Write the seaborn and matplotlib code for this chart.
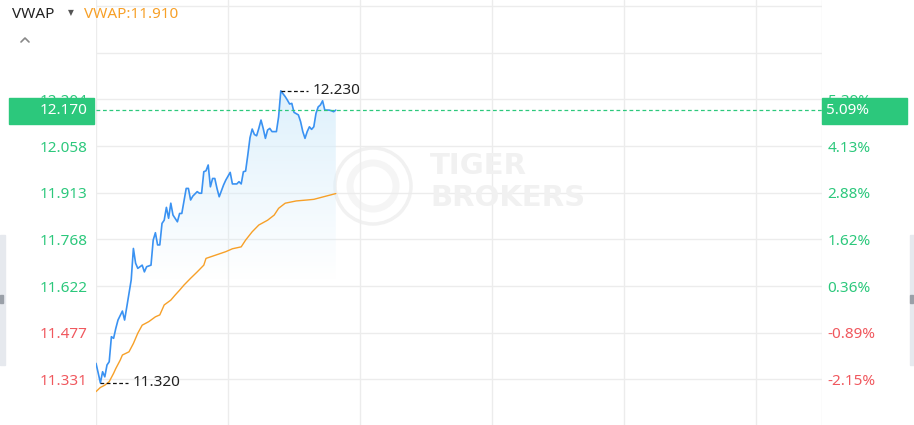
import numpy as np
import pandas as pd
import matplotlib.pyplot as plt
import matplotlib.transforms as mtransforms
from matplotlib.patches import Rectangle, Ellipse
from matplotlib.lines import Line2D
import seaborn as sns

# intraday session (HK market, 330 trading minutes)
session_minutes = 330
time_ticks = [0, 60, 120, 180, 240, 300, 330]

price_min = [0, 1, 2, 3, 4, 5, 6, 7, 8, 9, 10, 12, 13, 14, 16, 17, 18, 19, 21, 22,
             23, 25, 26, 27, 28, 29, 30, 31, 32, 33, 34, 35, 37, 38, 39, 41, 42, 43, 44, 46,
             47, 48, 49, 50, 51, 52, 53, 54, 55, 56, 58, 59, 61, 62, 64, 65, 66, 67, 68, 69,
             70, 71, 72, 73, 74, 75, 76, 77, 78, 79, 80, 82, 83, 84, 86, 87, 88, 89, 90, 92,
             93, 94, 95, 96, 97, 98, 99, 100, 101, 102, 103, 104, 106, 107, 108, 109]
price = [11.381, 11.351, 11.320, 11.355, 11.339, 11.376, 11.386, 11.464, 11.459, 11.490,
         11.516, 11.544, 11.516, 11.557, 11.641, 11.739, 11.693, 11.677, 11.687, 11.666,
         11.682, 11.687, 11.765, 11.788, 11.750, 11.750, 11.817, 11.827, 11.867, 11.833,
         11.880, 11.843, 11.822, 11.848, 11.848, 11.926, 11.926, 11.890, 11.902, 11.916,
         11.911, 11.911, 11.978, 11.981, 11.999, 11.931, 11.957, 11.957, 11.926, 11.900,
         11.937, 11.952, 11.976, 11.940, 11.940, 11.947, 11.940, 11.978, 11.980, 12.030,
         12.084, 12.111, 12.094, 12.090, 12.113, 12.139, 12.113, 12.082, 12.108, 12.113,
         12.103, 12.103, 12.149, 12.230, 12.212, 12.201, 12.189, 12.191, 12.163, 12.155,
         12.134, 12.103, 12.082, 12.103, 12.118, 12.110, 12.118, 12.160, 12.180, 12.186,
         12.199, 12.170, 12.170, 12.168, 12.165, 12.170]

vwap_min = [0, 2, 4, 6, 8, 9, 11, 12, 15, 17, 19, 21, 24, 27, 29, 31, 34, 36, 38, 40,
            43, 46, 49, 50, 53, 56, 59, 62, 66, 68, 71, 74, 78, 81, 83, 86, 91, 96, 99, 109]
vwap = [11.293, 11.306, 11.313, 11.324, 11.350, 11.365, 11.391, 11.407, 11.417, 11.443,
        11.475, 11.500, 11.511, 11.526, 11.532, 11.563, 11.578, 11.594, 11.609, 11.625,
        11.646, 11.666, 11.687, 11.708, 11.715, 11.722, 11.729, 11.738, 11.744, 11.765,
        11.791, 11.812, 11.827, 11.843, 11.864, 11.880, 11.887, 11.890, 11.892, 11.910]

pre_close = 11.580
last_price = 12.170
last_vwap = 11.910
day_high, day_high_min = 12.230, 84
day_low, day_low_min = 11.320, 2
price_ticks = [11.331, 11.477, 11.622, 11.768, 11.913, 12.058, 12.204, 12.349, 12.495]
n_labeled = 7

GREEN = '#2cc87c'
RED = '#f0585e'
BLUE = '#3a92f2'
ORANGE = '#f7a028'
GRID = '#ececec'

sns.set_style('white')
plt.rcParams['font.family'] = ['Noto Sans', 'DejaVu Sans']

W, H = 914, 425
fig = plt.figure(figsize=(W / 100, H / 100), dpi=100)
ax = fig.add_axes([96 / W, 0, (822 - 96) / W, 1])
ax.patch.set_alpha(0)

price_df = pd.DataFrame({'minute': price_min, 'price': price})
vwap_df = pd.DataFrame({'minute': vwap_min, 'vwap': vwap})

ylo, yhi = 11.189, 12.513

# watermark
wm = '#f1f1f1'
fig.add_artist(Ellipse((373 / W, 1 - 186 / H), 76 / W, 76 / H, transform=fig.transFigure,
                       fill=False, ec=wm, lw=2.5, zorder=0))
fig.add_artist(Ellipse((373 / W, 1 - 186 / H), 46 / W, 46 / H, transform=fig.transFigure,
                       fill=False, ec='#f5f5f5', lw=5, zorder=0))
fig.text(430 / W, 1 - 166 / H, 'TIGER', fontsize=21, fontweight='bold', color=wm,
         va='center', ha='left', zorder=0, family=['DejaVu Sans'])
fig.text(430 / W, 1 - 198 / H, 'BROKERS', fontsize=21, fontweight='bold', color=wm,
         va='center', ha='left', zorder=0, family=['DejaVu Sans'])

# grid
for t in time_ticks:
    ax.axvline(t, color=GRID, lw=1, zorder=1)
for p in price_ticks:
    ax.axhline(p, color=GRID, lw=1, zorder=1)

# gradient fill under price line
poly = ax.fill_between(price_df['minute'], price_df['price'], ylo, color='none', lw=0)
grad = np.zeros((256, 1, 4))
grad[:, 0, 0] = 0.84
grad[:, 0, 1] = 0.93
grad[:, 0, 2] = 0.985
grad[:, 0, 3] = np.linspace(0.8, 0.0, 256)
img = ax.imshow(grad, extent=[0, max(price_min), 11.64, day_high], aspect='auto',
                origin='upper', zorder=2, interpolation='bilinear')
img.set_clip_path(poly.get_paths()[0], transform=ax.transData)

sns.lineplot(data=price_df, x='minute', y='price', ax=ax, color=BLUE, lw=1.2, zorder=4)
sns.lineplot(data=vwap_df, x='minute', y='vwap', ax=ax, color=ORANGE, lw=1.0, zorder=4)
ax.set_xlim(0, session_minutes)
ax.set_ylim(ylo, yhi)

# last price dashed line
ax.axhline(last_price, color=GREEN, lw=0.9, ls=(0, (3, 2.2)), zorder=5)

# high / low markers
ax.plot([day_high_min, 96.4], [day_high, day_high], color='#111111', lw=0.9,
        ls=(0, (3, 2)), zorder=5)
ax.text(98.6, day_high, f'{day_high:.3f}', fontsize=11, color='#222222', va='center', ha='left')
ax.plot([day_low_min, 14.5], [day_low, day_low], color='#111111', lw=0.9,
        ls=(0, (3, 2)), zorder=5)
ax.text(16.8, day_low, f'{day_low:.3f}', fontsize=11, color='#222222', va='center', ha='left')

# axes labels
ax.set_xlabel('')
ax.set_ylabel('')
ax.set_xticks([])
for s in ax.spines.values():
    s.set_visible(False)
left_labels = [f'{p:.3f}' if i < n_labeled else '' for i, p in enumerate(price_ticks)]
ax.set_yticks(price_ticks)
ax.set_yticklabels(left_labels)
ax.tick_params(axis='y', length=0, pad=6, labelsize=11)
for lab, p in zip(ax.get_yticklabels(), price_ticks):
    lab.set_color(GREEN if p >= pre_close else RED)

ax2 = ax.twinx()
ax2.set_ylim(ylo, yhi)
ax2.set_yticks(price_ticks)
right_labels = [f'{(p / pre_close - 1) * 100:.2f}%' if i < n_labeled else ''
                for i, p in enumerate(price_ticks)]
ax2.set_yticklabels(right_labels)
ax2.tick_params(axis='y', length=0, pad=4, labelsize=11)
for lab, p in zip(ax2.get_yticklabels(), price_ticks):
    lab.set_color(GREEN if p >= pre_close else RED)
for s in ax2.spines.values():
    s.set_visible(False)

# last price tags
blend = mtransforms.blended_transform_factory(fig.transFigure, ax.transData)
box_h = 26 / H * (yhi - ylo)
for x0 in (9, 822):
    fig.add_artist(Rectangle((x0 / W, last_price - box_h * 0.55), 85 / W, box_h,
                             transform=blend, color=GREEN, zorder=10, clip_on=False))
fig.text(88 / W, last_price, f'{last_price:.3f}', transform=blend, fontsize=11,
         color='white', ha='right', va='center', zorder=11)
fig.text(826 / W, last_price, f'{(last_price / pre_close - 1) * 100:.2f}%', transform=blend,
         fontsize=11, color='white', ha='left', va='center', zorder=11)

# header
fig.text(12 / W, 1 - 15 / H, 'VWAP', fontsize=11, color='#222222', va='center', ha='left')
fig.text(68 / W, 1 - 13 / H, '▼', fontsize=5.5, color='#555555', va='center', ha='left',
         family=['DejaVu Sans'])
fig.text(84 / W, 1 - 15 / H, f'VWAP:{last_vwap:.3f}', fontsize=11, color=ORANGE,
         va='center', ha='left')
fig.add_artist(Line2D([21 / W, 25 / W, 29 / W], [1 - 42 / H, 1 - 38 / H, 1 - 42 / H],
                      transform=fig.transFigure, color='#888888', lw=1.2))

# side handles
for x0, w in ((0, 5), (910, 4)):
    fig.add_artist(Rectangle((x0 / W, 1 - 365 / H), w / W, 130 / H, transform=fig.transFigure,
                             color='#e6e9ee', zorder=0))
    fig.add_artist(Rectangle((x0 / W, 1 - 303 / H), 3 / W, 8 / H, transform=fig.transFigure,
                             color='#9aa0a8', zorder=0))

fig.savefig('out.png', dpi=100)
